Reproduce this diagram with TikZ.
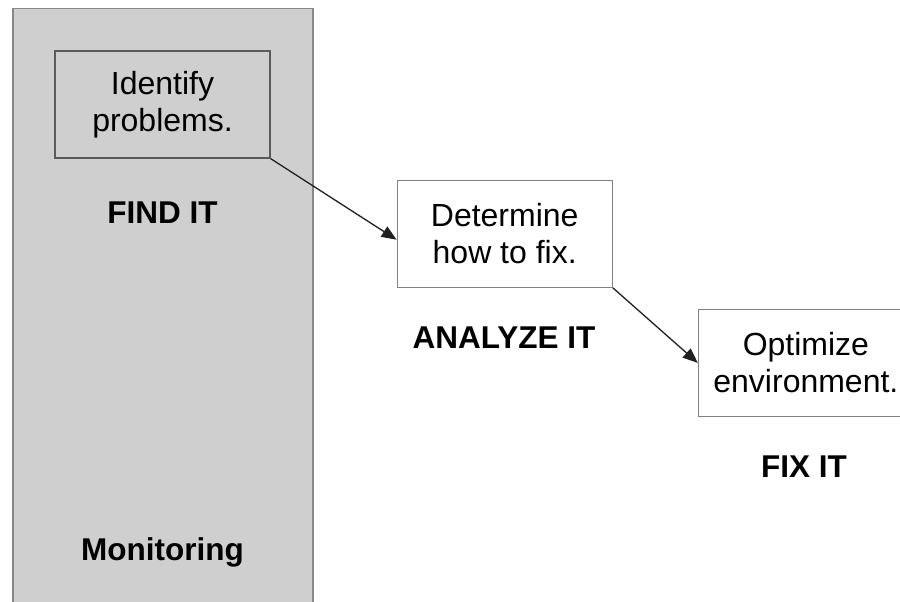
\documentclass[tikz,border=0pt]{standalone}
\usepackage{fontspec}
\setmainfont{Liberation Sans}
\usepackage{tikz}
\usetikzlibrary{arrows.meta,positioning}
\definecolor{PanelGray}{HTML}{CFCFCF}
\definecolor{PanelEdge}{HTML}{888888}
\definecolor{BoxEdge}{HTML}{5A5A5A}
\definecolor{LightEdge}{HTML}{808080}
\definecolor{ArrowInk}{HTML}{202020}

\begin{document}
\begin{tikzpicture}[x=1pt,y=-1pt,>=Triangle,every node/.style={font=\fontsize{32}{37}\selectfont, align=center}, stepbox/.style={draw, line width=1.2pt, minimum width=215pt, minimum height=107pt, inner sep=0pt}, tag/.style={font=\fontsize{31.5}{37}\selectfont\bfseries}]
        \useasboundingbox[fill=white] (0,0) rectangle (900,602);
        \clip (0,0) rectangle (900,602);
        \node[draw=PanelEdge, fill=PanelGray, line width=1.5pt, minimum width=300pt, minimum height=620pt, anchor=north west] (panel) at (12,8) {};
        \node[stepbox, draw=BoxEdge, fill=PanelGray] (ident) at (162.5,104.5) {Identify\\problems.};
        \node[stepbox, draw=LightEdge, fill=white, below right=21pt and 126pt of ident] (determ) {Determine\\how to fix.};
        \node[stepbox, draw=LightEdge, fill=white, below right=21pt and 85pt of determ] (optim) {Optimize\\environment.};
        \node[tag] (findlbl) at (162.5,213) {FIND IT};
        \node[tag] (analbl) at (504,338) {ANALYZE IT};
        \node[tag] (fixlbl) at (804,467) {FIX IT};
        \node[tag] (monlbl) at (162.5,552) {Monitoring};
        \draw[-{Triangle[length=15pt,width=12pt]}, line width=1.3pt, ArrowInk] (ident.south east) -- ([yshift=-6pt]determ.west);
        \draw[-{Triangle[length=15pt,width=12pt]}, line width=1.3pt, ArrowInk] (determ.south east) -- (optim.west);
    \end{tikzpicture}
\end{document}
